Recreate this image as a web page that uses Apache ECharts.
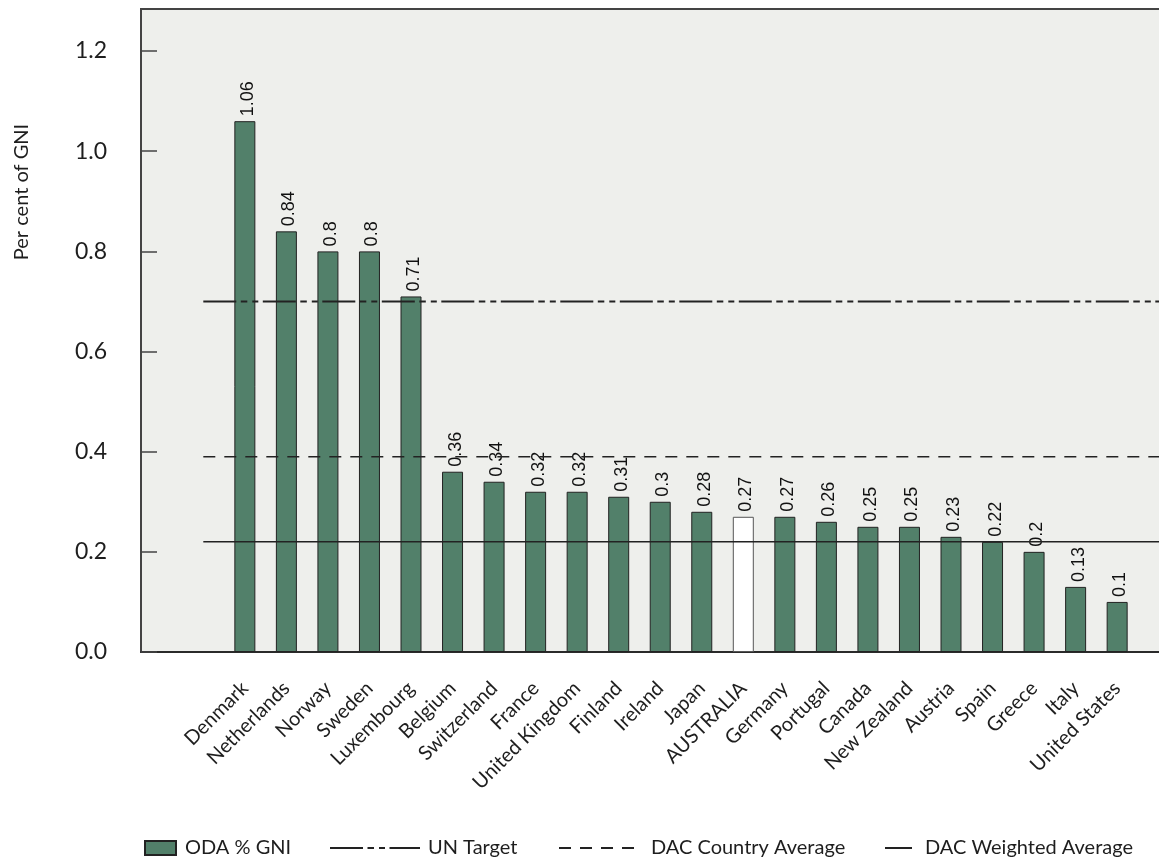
<!DOCTYPE html>
<html>
<head>
<meta charset="utf-8">
<script src="https://cdn.jsdelivr.net/npm/echarts@6/dist/echarts.min.js"></script>
<style>
html,body{margin:0;padding:0;background:#fff;}
#chart{width:1159px;height:862px;}
</style>
</head>
<body>
<div id="chart"></div>
<script>
const categories = ['Denmark','Netherlands','Norway','Sweden','Luxembourg','Belgium','Switzerland','France','United Kingdom','Finland','Ireland','Japan','AUSTRALIA','Germany','Portugal','Canada','New Zealand','Austria','Spain','Greece','Italy','United States'];
const odaValues = [1.06,0.84,0.8,0.8,0.71,0.36,0.34,0.32,0.32,0.31,0.3,0.28,0.27,0.27,0.26,0.25,0.25,0.23,0.22,0.2,0.13,0.1];
const highlightCountry = 'AUSTRALIA';
const unTarget = 0.7;
const dacCountryAverage = 0.39;
const dacWeightedAverage = 0.22;
const yTicks = [0,0.2,0.4,0.6,0.8,1.0,1.2];
const seriesNames = ['ODA % GNI','UN Target','DAC Country Average','DAC Weighted Average'];

const FONT = 'Lato, "Noto Sans", sans-serif';
const TXT = '#1e1e1e';

// layout padding slots on the category axis (empty)
const padStart = [' ', '  '];
const padEnd = ['   ', '    '];
const xData = padStart.concat(categories, padEnd);
const lineFrom = 1;
const lineTo = xData.length - 1;

const barData = padStart.map(() => '-').concat(
  odaValues.map((v, i) => categories[i] === highlightCountry
    ? { value: v, itemStyle: { color: '#ffffff', borderColor: '#555' } }
    : v),
  padEnd.map(() => '-'));

function refLine(name, value, type, width) {
  return {
    name: name,
    type: 'line',
    data: [[lineFrom, value], [lineTo, value]],
    symbol: 'none',
    silent: true,
    z: 5,
    lineStyle: { color: '#222', width: width, type: type },
    itemStyle: { color: '#222' }
  };
}

const hiddenSymbol = { color: 'rgba(0,0,0,0)', borderColor: 'rgba(0,0,0,0)', borderWidth: 0 };

const chart = echarts.init(document.getElementById('chart'), null, { renderer: 'canvas' });
const option = {
  animation: false,
  backgroundColor: '#ffffff',
  textStyle: { fontFamily: FONT, color: TXT },
  grid: {
    left: 141, top: 9, bottom: 210, width: 1080,
    outerBoundsMode: 'none',
    show: true, backgroundColor: '#eeefec', borderColor: '#444', borderWidth: 2,
    containLabel: false
  },
  xAxis: {
    type: 'category',
    data: xData,
    boundaryGap: true,
    axisLine: { show: true, lineStyle: { color: '#222', width: 1.5 } },
    axisTick: { show: false },
    axisLabel: {
      interval: 0, rotate: 45, margin: 33,
      fontSize: 20, fontFamily: FONT, color: TXT
    }
  },
  yAxis: {
    type: 'value',
    min: 0, max: 1.284,
    axisLine: { show: true, lineStyle: { color: '#444', width: 2 } },
    axisTick: { show: true, inside: true, length: 16, customValues: yTicks, lineStyle: { color: '#444', width: 1.5 } },
    splitLine: { show: false },
    axisLabel: {
      customValues: yTicks,
      formatter: v => v.toFixed(1),
      fontSize: 23, fontFamily: FONT, color: TXT,
      margin: 34, padding: [0, 0, 14, 0]
    }
  },
  graphic: [{
    type: 'text', x: 22, y: 192, rotation: Math.PI / 2,
    style: { text: 'Per cent of GNI', fontSize: 20, fontFamily: FONT, fill: TXT, align: 'center', verticalAlign: 'middle' }
  }],
  legend: [
    { data: [seriesNames[0]], left: 139, top: 833, itemWidth: 31, itemHeight: 14, icon: 'rect',
      textStyle: { fontSize: 20, fontFamily: FONT, color: TXT, padding: [0, 0, 0, 4] } },
    { data: [seriesNames[1]], left: 324, top: 833, itemWidth: 90, itemHeight: 14, itemStyle: hiddenSymbol,
      textStyle: { fontSize: 20, fontFamily: FONT, color: TXT, padding: [0, 0, 0, 3] } },
    { data: [seriesNames[2]], left: 553, top: 833, itemWidth: 83, itemHeight: 14, itemStyle: hiddenSymbol,
      textStyle: { fontSize: 20, fontFamily: FONT, color: TXT, padding: [0, 0, 0, 4] } },
    { data: [seriesNames[3]], left: 879, top: 833, itemWidth: 27, itemHeight: 14, itemStyle: hiddenSymbol,
      textStyle: { fontSize: 20, fontFamily: FONT, color: TXT, padding: [0, 0, 0, 8] } }
  ],
  series: [
    {
      name: seriesNames[0],
      type: 'bar',
      data: barData,
      barWidth: 21,
      z: 2,
      itemStyle: { color: '#52806a', borderColor: '#222', borderWidth: 1 },
      label: {
        show: true, position: 'top', rotate: 90, align: 'left', verticalAlign: 'middle',
        distance: 4, offset: [1, 3], fontSize: 18, fontFamily: '"Liberation Sans", Arial, sans-serif', color: '#111',
        formatter: p => String(p.value)
      }
    },
    refLine(seriesNames[1], unTarget, [33, 4.5, 6.5, 5, 6, 4.5], 2),
    refLine(seriesNames[2], dacCountryAverage, [12, 9], 1.5),
    refLine(seriesNames[3], dacWeightedAverage, 'solid', 1.5)
  ]
};
chart.setOption(option);
</script>
</body>
</html>
